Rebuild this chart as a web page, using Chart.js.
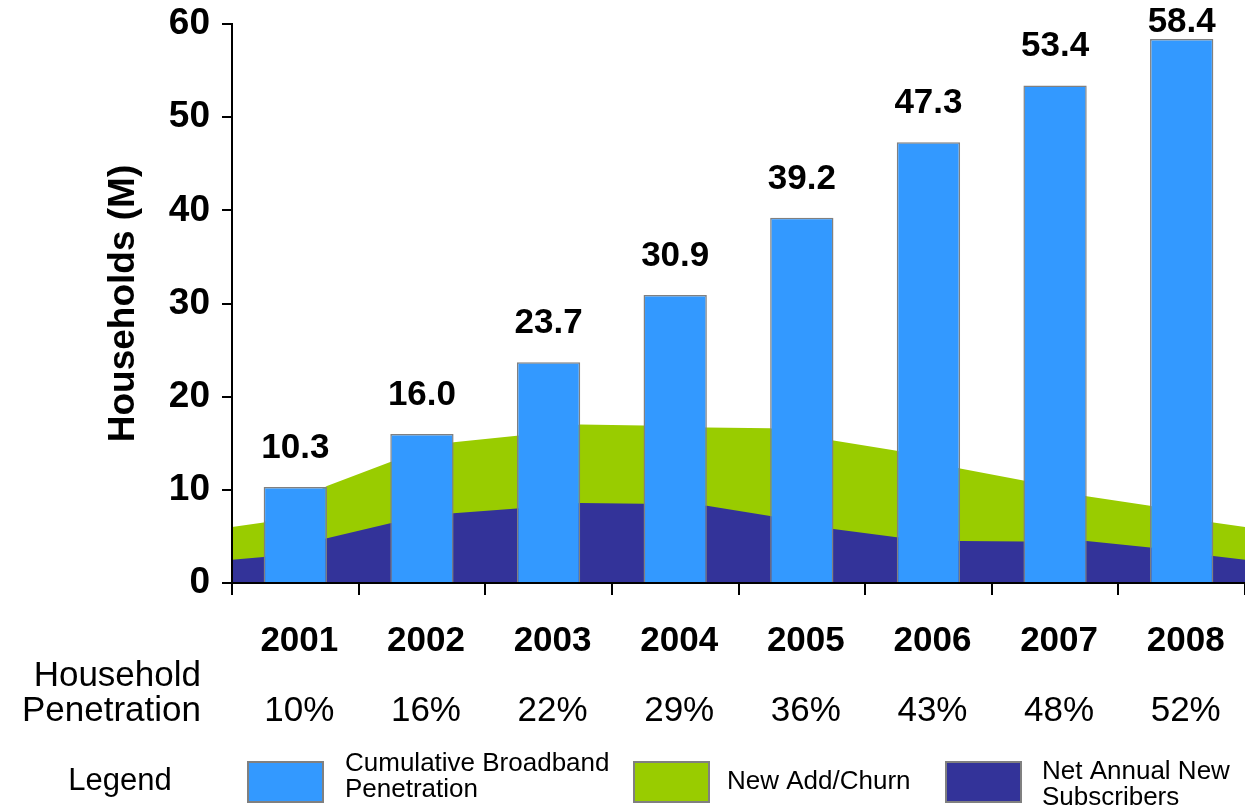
<!DOCTYPE html>
<html>
<head>
<meta charset="utf-8">
<title>Broadband households</title>
<script src="https://cdn.jsdelivr.net/npm/chart.js@4/dist/chart.umd.min.js"></script>
<style>
  html, body { margin: 0; padding: 0; background: #fff; }
</style>
</head>
<body>
<canvas id="myChart" width="1245" height="809"></canvas>
<script>
const years = ['2001', '2002', '2003', '2004', '2005', '2006', '2007', '2008'];
const broadband = [10.3, 16.0, 23.7, 30.9, 39.2, 47.3, 53.4, 58.4];
const penetration = ['10%', '16%', '22%', '29%', '36%', '43%', '48%', '52%'];

// area series are sampled at the edges of each bar (plus both ends of the axis)
const areaYears = [2000.5, 2000.75, 2001.25, 2001.75, 2002.25, 2002.75, 2003.25, 2003.75, 2004.25,
                   2004.75, 2005.25, 2005.75, 2006.25, 2006.75, 2007.25, 2007.75, 2008.25, 2008.5];
const newAddChurn = [6.0, 6.5, 10.4, 13.0, 15.1, 15.8, 17.0, 16.9, 16.7,
                     16.6, 15.3, 14.2, 12.3, 11.0, 9.3, 8.3, 6.5, 6.0];
const netNew = [2.5, 2.8, 4.8, 6.4, 7.5, 8.0, 8.6, 8.5, 8.3,
                7.2, 5.8, 4.9, 4.5, 4.45, 4.5, 3.8, 2.9, 2.5];

// legend strip: box left edge, text left edge, and the y of each text line
const legendItems = [
  {lines: ['Cumulative Broadband', 'Penetration'], color: '#3399ff', box: 248, text: 345, ys: [764, 790]},
  {lines: ['New Add/Churn'], color: '#99cc00', box: 634, text: 727, ys: [782]},
  {lines: ['Net Annual New', 'Subscribers'], color: '#333399', box: 946, text: 1042, ys: [772, 798]}
];

const FONT = '"Liberation Sans", Arial, sans-serif';
const toPoints = (xs, ys) => xs.map((x, i) => ({x: x, y: ys[i]}));

// value labels, penetration row and the legend under the axis
const extraText = {
  id: 'extraText',
  afterDraw(chart) {
    const ctx = chart.ctx;
    const xs = chart.scales.x;
    ctx.save();
    ctx.fillStyle = '#000';

    ctx.font = 'bold 35px ' + FONT;
    ctx.textAlign = 'center';
    ctx.textBaseline = 'alphabetic';
    chart.getDatasetMeta(0).data.forEach((bar, i) => {
      const y = Math.max(bar.y - 29, 32);
      ctx.fillText(broadband[i].toFixed(1), bar.x, y);
    });

    ctx.font = '35px ' + FONT;
    ctx.textBaseline = 'middle';
    penetration.forEach((p, i) => {
      ctx.fillText(p, xs.getPixelForValue(i) + 4, 711);
    });
    ctx.textAlign = 'right';
    ctx.fillText('Household', 201, 676);
    ctx.fillText('Penetration', 201, 711);

    ctx.textAlign = 'center';
    ctx.font = '31px ' + FONT;
    ctx.fillText('Legend', 120, 781);

    ctx.font = '26px ' + FONT;
    ctx.textAlign = 'left';
    legendItems.forEach(item => {
      ctx.fillStyle = item.color;
      ctx.fillRect(item.box, 762, 75, 40);
      ctx.strokeStyle = '#808080';
      ctx.lineWidth = 2;
      ctx.strokeRect(item.box, 762, 75, 40);
      ctx.fillStyle = '#000';
      item.lines.forEach((line, j) => ctx.fillText(line, item.text, item.ys[j]));
    });
    ctx.restore();
  }
};

new Chart(document.getElementById('myChart'), {
  data: {
    labels: years,
    datasets: [
      {
        type: 'bar',
        label: 'Cumulative Broadband Penetration',
        data: broadband,
        backgroundColor: '#3399ff',
        borderColor: '#808080',
        borderWidth: 1.5,
        grouped: false,
        barPercentage: 1,
        categoryPercentage: 0.5,
        order: 0
      },
      {
        type: 'line',
        label: 'Net Annual New Subscribers',
        data: toPoints(areaYears, netNew),
        xAxisID: 'xa',
        backgroundColor: '#333399',
        borderWidth: 0,
        pointRadius: 0,
        fill: 'origin',
        tension: 0,
        order: 1
      },
      {
        type: 'line',
        label: 'New Add/Churn',
        data: toPoints(areaYears, newAddChurn),
        xAxisID: 'xa',
        backgroundColor: '#99cc00',
        borderWidth: 0,
        pointRadius: 0,
        fill: 'origin',
        tension: 0,
        order: 2
      }
    ]
  },
  options: {
    responsive: false,
    animation: false,
    layout: {padding: {top: 24, right: 0, left: 0, bottom: 0}},
    plugins: {legend: {display: false}, tooltip: {enabled: false}},
    scales: {
      x: {
        type: 'category',
        offset: true,
        grid: {drawOnChartArea: false, offset: true, tickLength: 12, color: '#000', lineWidth: 2},
        border: {color: '#000', width: 2, z: 1},
        ticks: {color: '#000', font: {family: FONT, size: 35, weight: 'bold'}, padding: 25, labelOffset: 4, maxRotation: 0},
        afterFit: s => { s.height = 226; s.paddingLeft = 0; s.paddingRight = 0; }
      },
      xa: {
        type: 'linear',
        display: false,
        min: 2000.5,
        max: 2008.5
      },
      y: {
        min: 0,
        max: 60,
        ticks: {stepSize: 10, color: '#000', font: {family: FONT, size: 37, weight: 'bold'}, padding: 12},
        grid: {drawOnChartArea: false, tickLength: 10, color: '#000', lineWidth: 2},
        border: {color: '#000', width: 2, z: 1},
        title: {
          display: true,
          text: 'Households (M)',
          color: '#000',
          font: {family: FONT, size: 37, weight: 'bold'},
          padding: {top: 102, bottom: 0}
        },
        afterFit: s => { s.width = 232; s.paddingTop = 0; s.paddingBottom = 0; }
      }
    }
  },
  plugins: [extraText]
});
</script>
</body>
</html>
